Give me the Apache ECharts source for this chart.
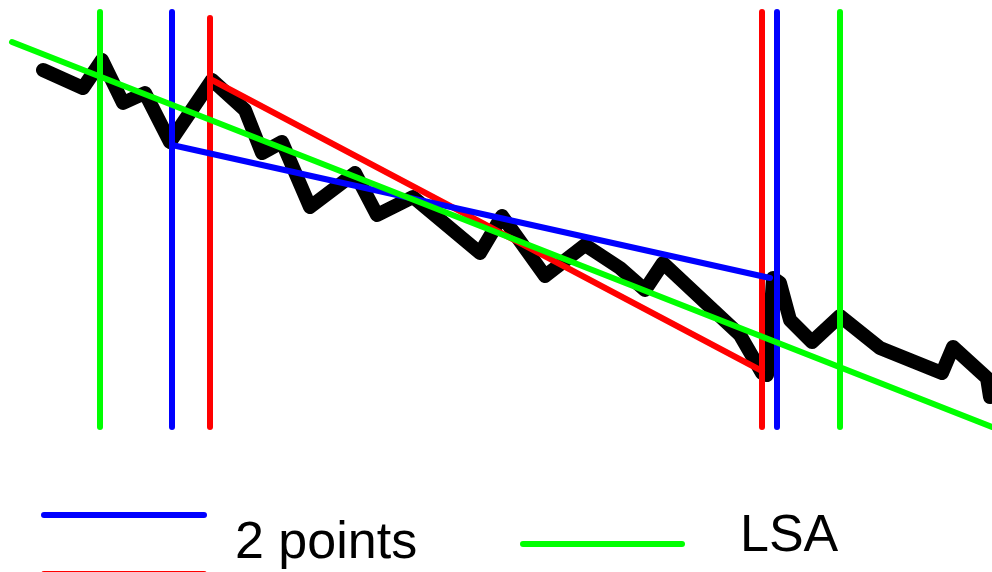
<!DOCTYPE html>
<html>
<head>
<meta charset="utf-8">
<script src="https://cdn.jsdelivr.net/npm/echarts@6/dist/echarts.min.js"></script>
<style>html,body{margin:0;padding:0;background:#fff}#c{width:992px;height:572px}</style>
</head>
<body>
<div id="c"></div>
<script>
// Data (x = sample position, y = signal value)
const signalX = [43,83,102,123,145,170,212,245,262,282,310,355,377,413,480,502,545,585,620,645,663,710,740,762,767,773,780,790,812,840,880,942,953,987,990];
const signalY = [502,484,512,469,479,430,492,462,419,430,365,399,357,375,319,356,296,327,304,282,309,265,237,199,197,294,289,252,230,256,224,199,225,194,175];
// Fit "2 points" (blue)
const twoPointsX = [172,770];
const twoPointsY = [427,294];
// Fit "2 extremes" (red)
const extremesX = [212,762];
const extremesY = [492,201];
// Fit "LSA" (green)
const lsaX = [12,992];
const lsaY = [530,145];
// Vertical markers
const blueMarks = [172,777];
const redMarks = [210,762];
const greenMarks = [100,840];
const markTop = 560, markTopRed = 554, markBottom = 145;

const pairs = (xs, ys) => xs.map((x,i)=>[x, ys[i]]);
const lineSeries = (data, color, w, z) => ({
  type:'line', data, symbol:'none', silent:true, z,
  lineStyle:{color, width:w, cap:'round', join:'round'}
});
const series = [lineSeries(pairs(signalX, signalY), '#000000', 14, 1)];
greenMarks.forEach(x => series.push(lineSeries([[x,markTop],[x,markBottom]], '#00ff00', 6, 2)));
blueMarks.forEach(x => series.push(lineSeries([[x,markTop],[x,markBottom]], '#0000ff', 6, 2)));
redMarks.forEach((x,i) => series.push(lineSeries([[x,i===0?markTopRed:markTop],[x,markBottom]], '#ff0000', 6, 2)));
series.push(lineSeries(pairs(extremesX, extremesY), '#ff0000', 6, 3));
series.push(lineSeries(pairs(twoPointsX, twoPointsY), '#0000ff', 6, 3));
series.push(lineSeries(pairs(lsaX, lsaY), '#00ff00', 6, 3));

const chart = echarts.init(document.getElementById('c'), null, {renderer:'canvas'});
chart.setOption({
  animation:false,
  backgroundColor:'#ffffff',
  grid:{left:0,right:0,top:0,bottom:0},
  xAxis:{type:'value', min:0, max:992, show:false},
  yAxis:{type:'value', min:0, max:572, show:false},
  series,
  graphic:[
    {type:'line', shape:{x1:44,y1:515,x2:204,y2:515}, style:{stroke:'#0000ff', lineWidth:6, lineCap:'round'}},
    {type:'line', shape:{x1:44,y1:574,x2:204,y2:574}, style:{stroke:'#ff0000', lineWidth:6, lineCap:'round'}},
    {type:'text', x:235, y:544, style:{text:'2 points', fill:'#000', font:'52px "Liberation Sans", Arial, sans-serif', verticalAlign:'middle', align:'left'}},
    {type:'line', shape:{x1:523,y1:544,x2:682,y2:544}, style:{stroke:'#00ff00', lineWidth:6, lineCap:'round'}},
    {type:'text', x:740, y:537, style:{text:'LSA', fill:'#000', font:'52px "Liberation Sans", Arial, sans-serif', verticalAlign:'middle', align:'left'}}
  ]
});
</script>
</body>
</html>
